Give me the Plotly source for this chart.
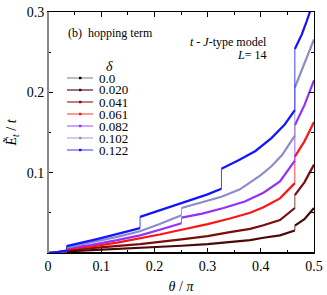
import plotly.graph_objects as go

# ---- data (theta/pi, E_t/t); repeated theta = discontinuous jump ----
deltas = ["0.0", "0.020", "0.041", "0.061", "0.082", "0.102", "0.122"]

theta_000 = [0, 0.035, 0.1, 0.2, 0.3, 0.4, 0.5]
E_000 = [0, 0, 0, 0, 0, 0, 0]

theta_020 = [0, 0.02, 0.035, 0.035, 0.1, 0.173, 0.251, 0.30, 0.342, 0.38, 0.405, 0.436, 0.464, 0.464, 0.482, 0.5]
E_020 = [0, 0.0005, 0.001, 0.002, 0.004, 0.006, 0.009, 0.011, 0.0137, 0.016, 0.019, 0.022, 0.028, 0.034, 0.042, 0.056]

theta_041 = [0, 0.02, 0.035, 0.035, 0.1, 0.173, 0.251, 0.30, 0.342, 0.38, 0.405, 0.436, 0.464, 0.464, 0.482, 0.5]
E_041 = [0, 0.0007, 0.0015, 0.0035, 0.007, 0.011, 0.017, 0.021, 0.026, 0.030, 0.0345, 0.041, 0.056, 0.072, 0.088, 0.110]

theta_061 = [0, 0.02, 0.035, 0.035, 0.08, 0.13, 0.173, 0.21, 0.251, 0.30, 0.342, 0.38, 0.405, 0.436, 0.464, 0.464, 0.482, 0.5]
E_061 = [0, 0.0008, 0.002, 0.005, 0.008, 0.013, 0.018, 0.023, 0.029, 0.036, 0.043, 0.050, 0.057, 0.068, 0.087, 0.120, 0.139, 0.163]

theta_082 = [0, 0.02, 0.035, 0.035, 0.08, 0.13, 0.173, 0.21, 0.251, 0.251, 0.29, 0.33, 0.37, 0.405, 0.436, 0.464, 0.464, 0.482, 0.5]
E_082 = [0, 0.001, 0.0025, 0.006, 0.010, 0.016, 0.022, 0.029, 0.037, 0.044, 0.049, 0.056, 0.064, 0.075, 0.089, 0.115, 0.159, 0.184, 0.215]

theta_102 = [0, 0.02, 0.035, 0.035, 0.08, 0.13, 0.173, 0.21, 0.251, 0.251, 0.29, 0.326, 0.36, 0.40, 0.42, 0.44, 0.464, 0.464, 0.48, 0.5]
E_102 = [0, 0.001, 0.0028, 0.007, 0.013, 0.020, 0.027, 0.036, 0.047, 0.056, 0.063, 0.070, 0.079, 0.097, 0.108, 0.122, 0.146, 0.206, 0.232, 0.266]

theta_122 = [0, 0.01, 0.02, 0.035, 0.035, 0.06, 0.09, 0.12, 0.15, 0.173, 0.173, 0.2, 0.25, 0.3, 0.326, 0.326, 0.36, 0.39, 0.42, 0.445, 0.464, 0.464, 0.477, 0.486, 0.5]
E_122 = [0, 0.0005, 0.0015, 0.003, 0.0085, 0.012, 0.017, 0.022, 0.027, 0.031, 0.045, 0.051, 0.062, 0.073, 0.080, 0.105, 0.116, 0.127, 0.143, 0.160, 0.178, 0.254, 0.272, 0.288, 0.315]

series_theta = [theta_000, theta_020, theta_041, theta_061, theta_082, theta_102, theta_122]
series_E = [E_000, E_020, E_041, E_061, E_082, E_102, E_122]

line_colors = ["#000000", "#4a0808", "#7a0c0c", "#ff1414", "#9430ff", "#8c8cc8", "#1414ff"]
legend_line_colors = ["#a8a8a8", "#7a4545", "#b05555", "#ff7878", "#b888ff", "#bcbce4", "#7878ff"]

fig = go.Figure()

for th, ev, col in zip(series_theta, series_E, line_colors):
    xs, ys, jx, jy = [], [], [], []
    for i in range(len(th)):
        if i > 0 and th[i] == th[i - 1]:
            xs.append(None); ys.append(None)
            jx += [th[i - 1], th[i], None]
            jy += [ev[i - 1], ev[i], None]
        xs.append(th[i]); ys.append(ev[i])
    if jx:
        fig.add_trace(go.Scatter(x=jx, y=jy, mode="lines", line=dict(color=col, width=0.8),
                                 showlegend=False, hoverinfo="skip"))
    fig.add_trace(go.Scatter(x=xs, y=ys, mode="lines", line=dict(color=col, width=2.2),
                             showlegend=False, connectgaps=False))

# plot area geometry (pixels)
W, H = 327, 295
L, R, T, B = 48, 13, 12, 42
PW, PH = W - L - R, H - T - B


def px(x):
    return (x - L) / PW


def py(y):
    return (H - B - y) / PH


serif = "Times New Roman"
shapes = []
annotations = []

# manual legend
annotations.append(dict(x=px(104), y=py(66), xref="paper", yref="paper", text="<i>δ</i>",
                        yanchor="middle", showarrow=False, font=dict(family=serif, size=14, color="black")))
for i, (lab, lc, mc) in enumerate(zip(deltas, legend_line_colors, line_colors)):
    yy = 78 + 12 * i
    shapes.append(dict(type="line", xref="paper", yref="paper", x0=px(67), x1=px(93),
                       y0=py(yy), y1=py(yy), line=dict(color=lc, width=1.5)))
    shapes.append(dict(type="rect", xref="paper", yref="paper", x0=px(79), x1=px(81.5),
                       y0=py(yy + 1.2), y1=py(yy - 1.2), line=dict(width=0), fillcolor=mc))
    annotations.append(dict(x=px(97), y=py(yy), xref="paper", yref="paper", text=lab,
                            xanchor="left", yanchor="middle", showarrow=False,
                            font=dict(family=serif, size=13, color="black")))

annotations.append(dict(x=px(66), y=py(33), xref="paper", yref="paper", text="(b)  hopping term",
                        xanchor="left", yanchor="middle", showarrow=False,
                        font=dict(family=serif, size=12, color="black")))
annotations.append(dict(x=px(269), y=py(42), xref="paper", yref="paper",
                        text="<i>t</i> - <i>J</i>-type model",
                        xanchor="right", yanchor="middle", showarrow=False,
                        font=dict(family=serif, size=12, color="black")))
annotations.append(dict(x=px(268), y=py(55), xref="paper", yref="paper",
                        text="<i>L</i>= 14",
                        xanchor="right", yanchor="middle", showarrow=False,
                        font=dict(family=serif, size=12, color="black")))

# gray left axis line
shapes.append(dict(type="line", xref="paper", yref="paper", x0=0, x1=0, y0=0, y1=1,
                   line=dict(color="#8a8a8a", width=2)))

fig.update_layout(
    width=W, height=H,
    margin=dict(l=L, r=R, t=T, b=B, autoexpand=False),
    paper_bgcolor="white", plot_bgcolor="white",
    showlegend=False,
    shapes=shapes, annotations=annotations,
    font=dict(family=serif, size=14, color="black"),
)
fig.update_xaxes(
    range=[0, 0.5], tickvals=[0, 0.1, 0.2, 0.3, 0.4, 0.5],
    ticktext=["0", "0.1", "0.2", "0.3", "0.4", "0.5"],
    ticks="inside", ticklen=5, tickcolor="black", showline=True, linecolor="black",
    linewidth=1, mirror="allticks", showgrid=False, zeroline=False, automargin=False,
    minor=dict(tickvals=[0.05, 0.15, 0.25, 0.35, 0.45], ticks="inside", ticklen=3, tickcolor="black"),
    title=dict(text="<i>θ</i> / <i>π</i>", font=dict(family=serif, size=14), standoff=8),
    tickfont=dict(family=serif, size=14),
)
fig.update_yaxes(
    range=[0, 0.3], tickvals=[0.1, 0.2, 0.3], ticktext=["0.1", "0.2", "0.3"],
    ticks="inside", ticklen=5, tickcolor="black", showline=True, linecolor="black",
    linewidth=1, mirror="allticks", showgrid=False, zeroline=False, automargin=False,
    minor=dict(tickvals=[0.05, 0.15, 0.25], ticks="inside", ticklen=3, tickcolor="black"),
    title=dict(text="<i>Ẽ</i><sub><i>t</i></sub> / <i>t</i>", font=dict(family=serif, size=14), standoff=6),
    tickfont=dict(family=serif, size=14),
)

fig.write_html("out.html", config={"displayModeBar": False},
               post_script="document.body.style.margin='0';document.body.style.padding='0';")
